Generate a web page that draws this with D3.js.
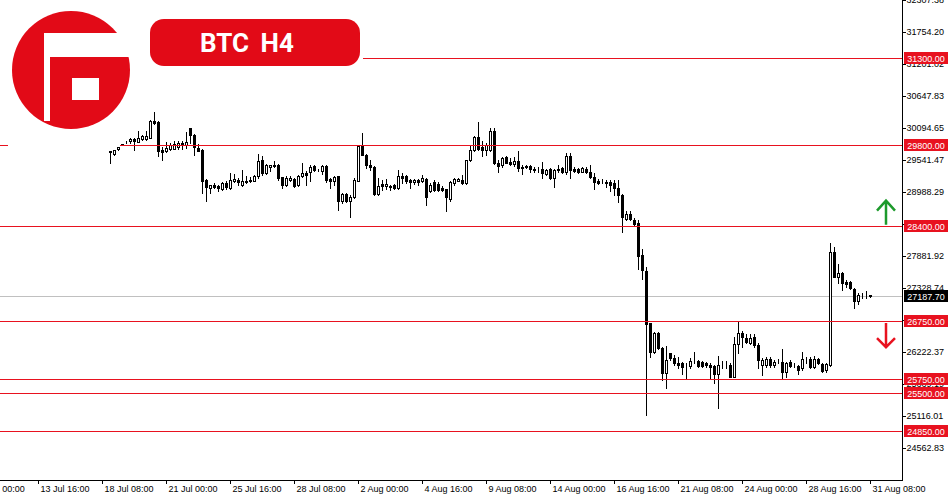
<!DOCTYPE html>
<html>
<head>
<meta charset="utf-8">
<script src="https://cdn.jsdelivr.net/npm/d3@7/dist/d3.min.js"></script>
<style>
  body { margin: 0; background: #fff; }
  svg { display: block; font-family: "Liberation Sans", Arial, sans-serif; }
</style>
</head>
<body>
<script>
const width = 950;
const height = 500;
const plotRight = 902;
const plotBottom = 480;
const red = '#e8121f';

// H4 candles (oldest first)
const opens = [29666,29645,29718,29805,29842,29860,29900,29842,29904,29900,
  29917,30216,30193,29704,29687,29721,29732,29756,29830,29791,
  30090,29976,29744,29714,29196,29052,29099,29082,29040,29139,
  29052,29168,29191,29099,29179,29191,29179,29255,29531,29312,
  29415,29455,29455,29237,29099,29196,29213,29109,29255,29312,
  29329,29428,29364,29341,29428,29208,29168,29255,28822,28948,
  28833,28891,29179,29773,29628,29455,29415,28948,29121,29082,
  29082,29109,29052,29255,29255,29196,29156,29196,29179,29208,
  29006,29151,29127,29052,29035,28868,29139,29179,29196,29139,
  29531,29704,29934,29756,29714,29709,30038,29479,29450,29583,
  29507,29467,29524,29421,29410,29438,29376,29376,29376,29295,
  29376,29220,29376,29393,29334,29605,29376,29381,29334,29381,
  29334,29248,29179,29179,29161,29151,29133,29047,28931,28516,
  28603,28499,28442,27894,27617,26713,26222,26553,26293,25859,
  26194,26108,26021,26021,25975,25975,26066,26066,26049,26021,
  25992,25975,25839,26021,26021,25992,25790,26350,26553,26454,
  26378,26481,26337,25992,25992,26095,25992,26061,26049,25876,
  26049,25992,25975,25935,26090,26090,25952,26090,26009,25906,
  25992,27940,27518,27588,27432,27432,27301,27104,27190,27190,
  27195];
const highs = [29695,29709,29770,29815,29865,29908,29921,30043,29973,30033,
  30228,30366,30202,29761,29842,29830,29860,29860,29860,30021,
  30098,29988,29813,29726,29208,29109,29139,29109,29156,29168,
  29312,29295,29225,29369,29255,29243,29283,29643,29600,29467,
  29455,29524,29467,29248,29255,29255,29225,29272,29484,29341,
  29455,29455,29381,29455,29455,29225,29255,29260,28966,28966,
  28926,29225,29801,30003,29640,29541,29428,29225,29196,29208,
  29109,29127,29369,29312,29283,29208,29208,29208,29283,29225,
  29139,29196,29151,29092,29040,29168,29225,29225,29283,29541,
  29801,29946,30193,29860,29830,30090,30090,29536,29593,29605,
  29565,29593,29697,29450,29450,29450,29421,29410,29507,29376,
  29393,29376,29450,29421,29663,29652,29410,29403,29421,29410,
  29450,29306,29203,29203,29191,29191,29191,29191,28940,28660,
  28660,28528,28499,27998,27681,26718,26568,26568,26310,26320,
  26205,26165,26125,26049,26032,26108,26222,26078,26061,26049,
  26021,25992,26147,26066,26066,26021,26481,26758,26580,26523,
  26523,26528,26367,26108,26135,26125,26078,26090,26263,26049,
  26078,26021,25992,26222,26135,26135,26147,26108,26021,26021,
  28096,28037,27733,27605,27462,27449,27318,27242,27232,27277,
  27205];
const lows = [29484,29623,29701,29790,29835,29835,29704,29839,29887,29877,
  29908,30167,29600,29531,29675,29714,29721,29721,29732,29744,
  29830,29617,29687,28966,28822,28966,29052,29006,29023,29040,
  29035,29156,29109,29082,29139,29156,29168,29225,29283,29300,
  29341,29410,29196,29052,29082,29168,29069,29092,29237,29109,
  29168,29341,29338,29295,29156,29052,29109,28677,28793,28810,
  28545,28879,29168,29617,29398,29369,28926,28936,29023,29040,
  29023,29040,29040,29139,29139,29052,29121,29109,29156,28764,
  28983,28995,28995,28995,28660,28833,29109,29168,29121,29127,
  29514,29687,29714,29600,29628,29692,29467,29334,29421,29479,
  29450,29432,29351,29295,29393,29334,29334,29334,29220,29277,
  29208,29064,29334,29317,29295,29220,29334,29317,29324,29317,
  29220,29030,29121,29133,29075,29006,28931,28805,28297,28499,
  28499,28395,27652,27479,25120,26125,26194,26266,25733,25589,
  26078,25992,25935,25839,25775,25935,26021,25964,25958,25964,
  25745,25675,25253,25935,25935,25780,25780,26194,26308,26367,
  26355,26308,25935,25819,25964,25964,25964,26021,25745,25790,
  25952,25952,25839,25906,26021,25935,25935,26009,25876,25876,
  25975,27508,27404,27289,27346,27301,26983,27046,27145,27145,
  27170];
const closes = [29687,29704,29753,29795,29856,29900,29860,29911,29946,29946,
  30206,30171,29687,29675,29744,29791,29813,29835,29791,29842,
  29963,29756,29697,29179,29064,29099,29064,29052,29139,29064,
  29196,29208,29156,29168,29156,29168,29255,29524,29312,29445,
  29445,29428,29225,29099,29225,29225,29082,29255,29312,29283,
  29410,29369,29355,29428,29196,29168,29237,28822,28948,28822,
  28897,29185,29773,29628,29445,29410,28948,29082,29082,29121,
  29069,29052,29255,29225,29168,29156,29196,29156,29225,28891,
  29109,29012,29023,29023,28897,29156,29208,29208,29139,29531,
  29704,29934,29732,29714,29801,30038,29479,29432,29565,29490,
  29467,29524,29393,29393,29438,29376,29355,29372,29306,29364,
  29220,29364,29364,29334,29605,29364,29352,29324,29393,29324,
  29237,29161,29144,29168,29133,29104,29047,28931,28546,28598,
  28511,28430,27882,27635,26696,26222,26553,26283,25859,26078,
  26108,26021,25992,25952,25966,26066,26061,25975,25975,25992,
  25964,25839,25992,26018,26018,25790,26355,26540,26471,26395,
  26454,26337,26078,26078,26095,25992,26049,26056,25876,26021,
  25975,25987,25906,26090,26087,25952,26101,26021,25893,26004,
  27940,27518,27577,27404,27387,27318,27104,27202,27193,27193,
  27187.70];

const lastPrice = 27187.70;
const levels = [31300, 29800, 28400, 26750, 25750, 25500, 24850];
const priceTicks = [24562.83, 25116.01, 25669.19, 26222.37, 26775.55, 27328.74, 27881.92,
  28435.10, 28988.29, 29541.47, 30094.65, 30647.83, 31201.02, 31754.20, 32307.38];
const timeLabels = ['11 Jul 00:00', '13 Jul 16:00', '18 Jul 08:00', '21 Jul 00:00', '25 Jul 16:00',
  '28 Jul 08:00', '2 Aug 00:00', '4 Aug 16:00', '9 Aug 08:00', '14 Aug 00:00', '16 Aug 16:00',
  '21 Aug 08:00', '24 Aug 00:00', '28 Aug 16:00', '31 Aug 08:00'];
// a time label every 16 bars, first one sits left of the first visible bar
const timeTickBars = timeLabels.map((d, i) => -34 + 16 * i);

const data = opens.map((o, i) => ({ i: i, o: o, h: highs[i], l: lows[i], c: closes[i] }));

//scales
var x = d3.scaleLinear().domain([0, opens.length - 1]).range([110, 870]);
var y = d3.scaleLinear().domain([24850, 31300]).range([431, 58]);

var svg = d3.select('body')
  .append('svg')
    .attr('width', width)
    .attr('height', height)
    .attr('shape-rendering', 'crispEdges');

svg.append('rect').attr('width', width).attr('height', height).attr('fill', '#fff');

//price axis on the right
var yAxis = d3.axisRight(y)
  .tickValues(priceTicks)
  .tickFormat(d3.format('.2f'))
  .tickSize(3)
  .tickPadding(1);
var gy = svg.append('g')
  .attr('transform', `translate(${plotRight + 0.5}, 0)`)
  .call(yAxis);
gy.select('.domain').remove();
gy.selectAll('.tick line').attr('stroke', '#000');
gy.selectAll('.tick text')
  .attr('fill', '#000')
  .attr('dy', '0.3em')
  .style('font-size', '9px')
  .style('font-family', '"Liberation Sans", Arial, sans-serif');

//time axis
var xAxis = d3.axisBottom(x)
  .tickValues(timeTickBars)
  .tickFormat((d, i) => timeLabels[i])
  .tickSize(4);
var gx = svg.append('g')
  .attr('transform', `translate(0, ${plotBottom})`)
  .call(xAxis);
gx.select('.domain').remove();
gx.selectAll('.tick line').attr('stroke', '#000');
gx.selectAll('.tick text')
  .attr('fill', '#000')
  .attr('text-anchor', 'start')
  .attr('x', 2)
  .attr('y', 6)
  .style('font-size', '9px')
  .style('font-family', '"Liberation Sans", Arial, sans-serif');

//frame
svg.append('line').attr('x1', plotRight + 0.5).attr('x2', plotRight + 0.5)
  .attr('y1', 0).attr('y2', plotBottom + 0.5).attr('stroke', '#000');
svg.append('line').attr('x1', 0).attr('x2', plotRight + 0.5)
  .attr('y1', plotBottom + 0.5).attr('y2', plotBottom + 0.5).attr('stroke', '#000');

//current price line
svg.append('line')
  .attr('x1', 0).attr('x2', plotRight)
  .attr('y1', Math.round(y(lastPrice)) + 0.5).attr('y2', Math.round(y(lastPrice)) + 0.5)
  .attr('stroke', '#c0c0c0');

//candles
var candles = svg.append('g').selectAll('g')
  .data(data)
  .enter()
  .append('g');

candles.append('line')
  .attr('x1', d => Math.round(x(d.i)) + 0.5)
  .attr('x2', d => Math.round(x(d.i)) + 0.5)
  .attr('y1', d => Math.round(y(d.h)))
  .attr('y2', d => Math.round(y(d.l)) + 1)
  .attr('stroke', '#000');

candles.append('rect')
  .attr('x', d => Math.round(x(d.i)) - 0.5)
  .attr('y', d => Math.round(y(Math.max(d.o, d.c))) + 0.5)
  .attr('width', 2)
  .attr('height', d => Math.max(0, Math.round(y(Math.min(d.o, d.c))) - Math.round(y(Math.max(d.o, d.c)))))
  .attr('fill', d => d.c >= d.o ? '#fff' : '#000')
  .attr('stroke', '#000');

//support / resistance levels
svg.append('g').selectAll('line')
  .data(levels)
  .enter()
  .append('line')
    .attr('x1', 0)
    .attr('x2', plotRight)
    .attr('y1', d => Math.round(y(d)) + 0.5)
    .attr('y2', d => Math.round(y(d)) + 0.5)
    .attr('stroke', red);

//white backdrop of the logo and title
svg.append('rect').attr('x', 0).attr('y', 0).attr('width', 363).attr('height', 70).attr('fill', '#fff');
svg.append('rect').attr('x', 8).attr('y', 0).attr('width', 112).attr('height', 147).attr('fill', '#fff');

//price labels for the levels
var lab = svg.append('g').selectAll('g')
  .data(levels)
  .enter()
  .append('g')
    .attr('transform', d => `translate(904, ${Math.round(y(d))})`);
lab.append('rect')
  .attr('x', 0).attr('y', -6).attr('width', 44).attr('height', 12)
  .attr('fill', red);
lab.append('text')
  .attr('x', 22).attr('y', 3.5)
  .attr('text-anchor', 'middle')
  .attr('fill', '#fff')
  .style('font-size', '9px')
  .text(d => d3.format('.2f')(d));

var last = svg.append('g').attr('transform', `translate(904, ${Math.round(y(lastPrice))})`);
last.append('rect').attr('x', 0).attr('y', -6).attr('width', 44).attr('height', 12).attr('fill', '#000');
last.append('text')
  .attr('x', 22).attr('y', 3.5)
  .attr('text-anchor', 'middle')
  .attr('fill', '#fff')
  .style('font-size', '9px')
  .text(d3.format('.2f')(lastPrice));

//arrows above resistance and below support
svg.append('path')
  .attr('d', `M886,${y(28400) - 1}V${y(28400) - 25}M877,${y(28400) - 15}L886,${y(28400) - 25}L895,${y(28400) - 15}`)
  .attr('fill', 'none')
  .attr('stroke', '#1d9a2c')
  .attr('stroke-width', 2.5)
  .attr('shape-rendering', 'auto');
svg.append('path')
  .attr('d', `M886,${y(26750) + 2}V${y(26750) + 26}M877,${y(26750) + 17}L886,${y(26750) + 26}L895,${y(26750) + 17}`)
  .attr('fill', 'none')
  .attr('stroke', red)
  .attr('stroke-width', 2.5)
  .attr('shape-rendering', 'auto');

//logo
var logo = svg.append('g').attr('shape-rendering', 'auto');
logo.append('circle').attr('cx', 71).attr('cy', 70).attr('r', 59).attr('fill', '#e20a17');
logo.append('rect').attr('x', 44).attr('y', 33).attr('width', 6).attr('height', 88).attr('fill', '#fff');
logo.append('path').attr('d', 'M50,33H136V57H50Z').attr('fill', '#fff');
logo.append('rect').attr('x', 72).attr('y', 78).attr('width', 27).attr('height', 22).attr('fill', '#fff');

//title
svg.append('rect')
  .attr('x', 150).attr('y', 19).attr('width', 210).attr('height', 47).attr('rx', 14)
  .attr('fill', '#e20a17')
  .attr('shape-rendering', 'auto');
svg.append('text')
  .attr('x', 247).attr('y', 52)
  .attr('text-anchor', 'middle')
  .attr('fill', '#fff')
  .style('font-family', 'Roboto, "Open Sans", sans-serif')
  .style('font-weight', 'bold')
  .style('font-size', '26px')
  .style('word-spacing', '5px')
  .text('BTC H4');
</script>
</body>
</html>
